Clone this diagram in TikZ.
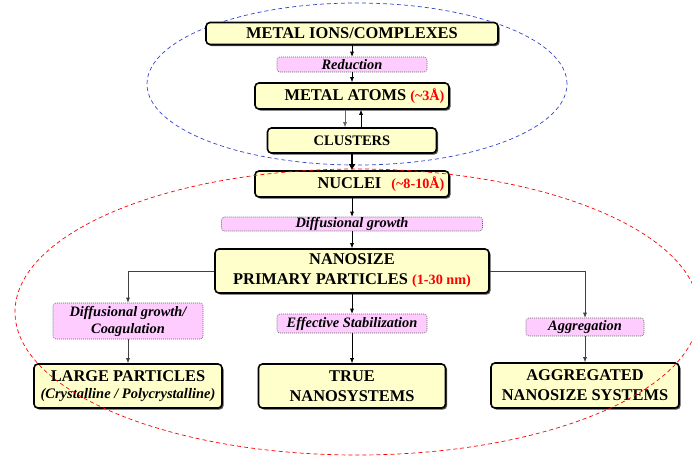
\documentclass[tikz,border=0pt]{standalone}
\usepackage{fontspec}
\setmainfont{Liberation Serif}
\usetikzlibrary{arrows.meta,shadows}

\definecolor{stagefill}{HTML}{FFFFCC}
\definecolor{stepfill}{HTML}{FFCCFF}
\definecolor{ringblue}{HTML}{3344CC}

\newcommand{\sizenote}[1]{{\color{red}\fontsize{14.2}{16}\selectfont #1}}

\tikzset{
  stage/.style={draw, line width=1.6pt, rounded corners=4pt, fill=stagefill,
    inner sep=0pt, align=center, font=\fontsize{16.4}{20}\selectfont\bfseries,
    drop shadow={shadow xshift=1.6pt, shadow yshift=-1.6pt, fill=black!70, opacity=1}},
  stepbox/.style={draw=black!60, dash pattern=on 1pt off 1pt, line width=0.6pt, rounded corners=3pt, fill=stepfill,
    inner sep=0pt, align=center, font=\fontsize{14.4}{17}\selectfont\bfseries\itshape},
  flow/.style={-{Latex[length=5pt,width=4pt]}, line width=0.6pt},
  ring/.style={dashed, dash pattern=on 4pt off 3pt, line width=0.7pt}
}

\begin{document}
\begin{tikzpicture}[x=1pt, y=-1pt]
  \useasboundingbox (0,0) rectangle (692,458);

  \draw[ring, ringblue] (357,84) ellipse [x radius=210pt, y radius=81pt];

  \node[stage, minimum width=292pt, minimum height=22pt] (ions) at (352,33.5) {METAL IONS/COMPLEXES};
  \node[stepbox, minimum width=150pt, minimum height=15pt] (reduction) at (352,64.5) {Reduction};
  \node[stage, minimum width=194pt, minimum height=26pt] (atoms) at (352,96) {\hspace*{25pt}METAL ATOMS \sizenote{(\textasciitilde3Å)}};
  \node[stage, minimum width=169pt, minimum height=25pt] (clusters) at (352,140.5) {\fontsize{14.5}{17}\selectfont CLUSTERS};
  \node[stage, minimum width=194pt, minimum height=26pt] (nuclei) at (352,184) {\hspace*{58pt}NUCLEI\hspace{10pt}\sizenote{(\textasciitilde8-10Å)}};
  \node[stepbox, minimum width=261pt, minimum height=14pt] (diffusion) at (352,224) {Diffusional growth};
  \node[stage, minimum width=274pt, minimum height=44pt] (nanosize) at (352,271) {NANOSIZE\\PRIMARY PARTICLES \sizenote{(1-30 nm)}};

  \node[stepbox, minimum width=150pt, minimum height=36pt] (coag) at (128,321) {Diffusional growth/\\Coagulation};
  \node[stepbox, minimum width=150pt, minimum height=19pt] (stab) at (352,323.5) {Effective Stabilization};
  \node[stepbox, minimum width=118pt, minimum height=18pt] (aggr) at (585,327) {Aggregation};

  \node[stage, minimum width=188pt, minimum height=44pt] (large) at (128,386) {LARGE PARTICLES\\[-3pt]{\fontsize{14.5}{16}\selectfont\itshape (Crystalline / Polycrystalline)}};
  \node[stage, minimum width=187pt, minimum height=44pt] (truens) at (352,386) {TRUE\\NANOSYSTEMS};
  \node[stage, minimum width=188pt, minimum height=45pt] (aggrns) at (585,385.5) {AGGREGATED\\NANOSIZE SYSTEMS};

  \draw[flow] (ions) -- (reduction);
  \draw[flow] (reduction) -- (atoms);
  \draw[flow, black!60] ([xshift=-7pt]atoms.south) -- ([xshift=-7pt]clusters.north);
  \draw[flow] ([xshift=9pt]clusters.north) -- ([xshift=9pt]atoms.south);
  \draw[-{Latex[length=6pt,width=7pt]}, line width=1.8pt] (clusters) -- (nuclei);
  \draw[flow] (nuclei) -- (diffusion);
  \draw[flow] (diffusion) -- (nanosize);

  \draw[flow, black!75] (nanosize.west) -| (coag.north);
  \draw[flow, black!75] (coag) -- (large);
  \draw[flow] (nanosize) -- (stab);
  \draw[flow] (stab) -- (truens);
  \draw[flow, black!75] (nanosize.east) -| (aggr.north);
  \draw[flow, black!75] (aggr) -- (aggrns);

  \draw[ring, red] (357,312) ellipse [x radius=342pt, y radius=143pt];
\end{tikzpicture}
\end{document}
